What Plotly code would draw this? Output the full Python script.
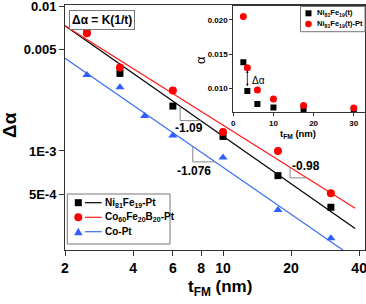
import numpy as np
import plotly.graph_objects as go

# ---------------- data ----------------
t_nife = [2.5, 3.5, 6, 10, 17.5, 30]
da_nife = [0.00676, 0.00343, 0.00204, 0.00126, 0.000676, 0.000409]
t_cofeb = [2.5, 3.5, 6, 10, 17.5, 30]
da_cofeb = [0.00648, 0.00377, 0.00261, 0.00135, 0.00100, 0.000511]
t_copt = [2.5, 3.5, 4.5, 6, 10, 17.5, 30]
da_copt = [0.00334, 0.00275, 0.00174, 0.00128, 0.000900, 0.000392, 0.000250]

# power-law fits  da = K * t^n
fit_K = [0.01554, 0.0144, 0.00919]
fit_n = [-1.09, -0.98, -1.076]
fit_trange = [2, 38.4]
slope_labels = ["-1.09", "-0.98", "-1.076"]
slope_tri_x = [(6.46, 7.96), (19.8, 23.5), (7.35, 9.23)]

# inset
t_inset = [2.5, 3.5, 6, 10, 17.5, 30]
alpha_nife = [0.0138, 0.0096, 0.0077, 0.00722, 0.00688, 0.00673]
alpha_nife_pt = [0.0205, 0.0130, 0.00975, 0.00844, 0.00750, 0.00713]

x_ticks = [2, 4, 6, 8, 10, 20, 40]
y_ticks = [0.01, 0.005, 0.001, 0.0005]
y_ticktext = ["0.01", "0.005", "1E-3", "5E-4"]
inset_xticks = [0, 10, 20, 30]
inset_yticks = [0.010, 0.015, 0.020]
inset_yticktext = ["0.010", "0.015", "0.020"]

names = ["Ni<sub>81</sub>Fe<sub>19</sub>-Pt", "Co<sub>60</sub>Fe<sub>20</sub>B<sub>20</sub>-Pt", "Co-Pt"]
colors = ["#000000", "#ff0000", "#2f5dff"]
line_colors = ["#000000", "#ff1a1a", "#3a6df0"]
FONT = "Liberation Sans, Arial, sans-serif"

W, H = 366, 304
L, R, T, B = 65, 365, 5, 250


def px(x):
    return (x - L) / (R - L)


def py(y):
    return (B - y) / (B - T)


fig = go.Figure()

# fit lines
tl = np.geomspace(fit_trange[0], fit_trange[1], 50)
for K, n, c in zip(fit_K, fit_n, line_colors):
    fig.add_trace(go.Scatter(x=tl, y=K * tl ** n, mode="lines",
                             line=dict(color=c, width=1.2), showlegend=False,
                             hoverinfo="skip"))

# slope triangles
for K, n, (x0, x1) in zip(fit_K, fit_n, slope_tri_x):
    y0 = K * x0 ** n
    y1 = K * x1 ** n
    fig.add_trace(go.Scatter(x=[x0, x0, x1], y=[y0, y1, y1], mode="lines",
                             line=dict(color="#888888", width=1), showlegend=False,
                             hoverinfo="skip"))

# data markers
fig.add_trace(go.Scatter(x=t_nife, y=da_nife, mode="markers",
                         marker=dict(symbol="square", size=7, color=colors[0]),
                         showlegend=False))
fig.add_trace(go.Scatter(x=t_cofeb, y=da_cofeb, mode="markers",
                         marker=dict(symbol="circle", size=8, color=colors[1]),
                         showlegend=False))
fig.add_trace(go.Scatter(x=t_copt, y=da_copt, mode="markers",
                         marker=dict(symbol="triangle-up", size=8, color=colors[2]),
                         showlegend=False))

# inset
fig.add_trace(go.Scatter(x=t_inset, y=alpha_nife, mode="markers", xaxis="x2", yaxis="y2",
                         marker=dict(symbol="square", size=6, color="#000000"),
                         showlegend=False))
fig.add_trace(go.Scatter(x=t_inset, y=alpha_nife_pt, mode="markers", xaxis="x2", yaxis="y2",
                         marker=dict(symbol="circle", size=7, color="#ff0000"),
                         showlegend=False))

axcol = "#333333"
common = dict(showline=True, linecolor=axcol, linewidth=1, mirror=True,
              showgrid=False, zeroline=False, automargin=False,
              ticklabeloverflow="allow", ticks="outside", tickcolor=axcol)
fig.update_layout(
    width=W, height=H,
    margin=dict(l=L, r=W - R, t=T, b=H - B, autoexpand=False),
    paper_bgcolor="white", plot_bgcolor="white",
    showlegend=False,
    font=dict(family=FONT, color="#000000"),
    xaxis=dict(type="log", range=[np.log10(2), 1.628], domain=[0, 1],
               tickvals=x_ticks, ticktext=[str(v) for v in x_ticks],
               tickfont=dict(size=14, family=FONT, weight="bold"),
               ticklen=5, **common),
    yaxis=dict(type="log", range=[-3.683, -1.993], domain=[0, 1],
               tickvals=y_ticks, ticktext=y_ticktext,
               tickfont=dict(size=13, family=FONT, weight="bold"),
               ticklen=5, **common),
    xaxis2=dict(domain=[0.561, 1.0], anchor="y2", range=[0, 32.8],
                tickvals=inset_xticks, ticktext=[str(v) for v in inset_xticks],
                tickfont=dict(size=8, family=FONT, weight="bold"),
                ticklen=3, **common),
    yaxis2=dict(domain=[0.562, 0.995], anchor="x2", range=[0.0065, 0.022],
                tickvals=inset_yticks, ticktext=inset_yticktext,
                tickfont=dict(size=8, family=FONT, weight="bold"),
                ticklen=3, **common),
)

ann = []
shapes = []


def label(text, x, y, size, bold=True, xanchor="center", angle=0, **kw):
    f = dict(size=size)
    if bold:
        f["weight"] = "bold"
    d = dict(text=text, xref="paper", yref="paper", x=px(x), y=py(y),
             xanchor=xanchor, yanchor="middle", showarrow=False, textangle=angle, font=f)
    d.update(kw)
    ann.append(d)


# axis titles
label("Δα", 9, 125, 19, angle=-90)
label("t<sub>FM</sub> (nm)", 220, 288, 17)
# formula box
label("Δα = K(1/t)", 101.5, 20.5, 12, bordercolor="#777777", borderwidth=1,
      borderpad=2, bgcolor="white")
# slope labels
for lab, (lx, ly) in zip(slope_labels, [(189.3, 128.3), (306, 165.7), (194.3, 171)]):
    label(lab, lx, ly, 12)

# inset titles
label("α", 200, 60, 13, bold=False, angle=-90)
label("t<sub>FM</sub> (nm)", 298, 134, 9.5)
# inset Δα arrow
ann.append(dict(x=3.5, y=0.0126, ax=3.5, ay=0.0101, xref="x2", yref="y2",
                axref="x2", ayref="y2", text="", showarrow=True,
                arrowhead=2, arrowside="end+start", arrowsize=0.6, arrowwidth=0.8,
                arrowcolor="#000000"))
ann.append(dict(text="Δα", xref="x2", yref="y2", x=4.1, y=0.0111, xanchor="left",
                yanchor="middle", showarrow=False, font=dict(size=10)))

# main legend (custom)
shapes.append(dict(type="rect", xref="paper", yref="paper", x0=px(67.3), x1=px(170),
                   y0=py(244), y1=py(194), line=dict(color="#777777", width=1),
                   fillcolor="white", layer="above"))
rows = [202.7, 217.3, 231.7]
mx = 78.3
for i, (yy, nm) in enumerate(zip(rows, names)):
    if i == 0:
        shapes.append(dict(type="rect", xref="paper", yref="paper",
                           x0=px(mx - 3.5), x1=px(mx + 3.5), y0=py(yy + 3.5), y1=py(yy - 3.5),
                           fillcolor=colors[0], line=dict(width=0), layer="above"))
    elif i == 1:
        shapes.append(dict(type="circle", xref="paper", yref="paper",
                           x0=px(mx - 4), x1=px(mx + 4), y0=py(yy + 4), y1=py(yy - 4),
                           fillcolor=colors[1], line=dict(width=0), layer="above"))
    else:
        path = "M {} {} L {} {} L {} {} Z".format(px(mx - 4.2), py(yy + 3.5), px(mx + 4.2), py(yy + 3.5),
                                                  px(mx), py(yy - 4))
        shapes.append(dict(type="path", xref="paper", yref="paper", path=path,
                           fillcolor=colors[2], line=dict(width=0), layer="above"))
    shapes.append(dict(type="line", xref="paper", yref="paper", x0=px(85), x1=px(101.7),
                       y0=py(yy), y1=py(yy), line=dict(color=line_colors[i], width=1.2),
                       layer="above"))
    label(nm, 103, yy, 10, xanchor="left")

# inset legend (custom)
shapes.append(dict(type="rect", xref="paper", yref="paper", x0=px(300.5), x1=px(365),
                   y0=py(31.7), y1=py(6.5), line=dict(color="#777777", width=1),
                   fillcolor="white", layer="above"))
ix = 308.5
shapes.append(dict(type="rect", xref="paper", yref="paper",
                   x0=px(ix - 3), x1=px(ix + 3), y0=py(13.3 + 3), y1=py(13.3 - 3),
                   fillcolor="#000000", line=dict(width=0), layer="above"))
shapes.append(dict(type="circle", xref="paper", yref="paper",
                   x0=px(ix - 3.3), x1=px(ix + 3.3), y0=py(24 + 3.3), y1=py(24 - 3.3),
                   fillcolor="#ff0000", line=dict(width=0), layer="above"))
label("Ni<sub>81</sub>Fe<sub>19</sub>(t)", 315, 13.3, 7.5, xanchor="left")
label("Ni<sub>81</sub>Fe<sub>19</sub>(t)-Pt", 315, 24, 7.5, xanchor="left")

fig.update_layout(annotations=ann, shapes=shapes)
fig.write_html("out.html", config={"displayModeBar": False},
               post_script="document.body.style.margin='0';document.body.style.padding='0';")
